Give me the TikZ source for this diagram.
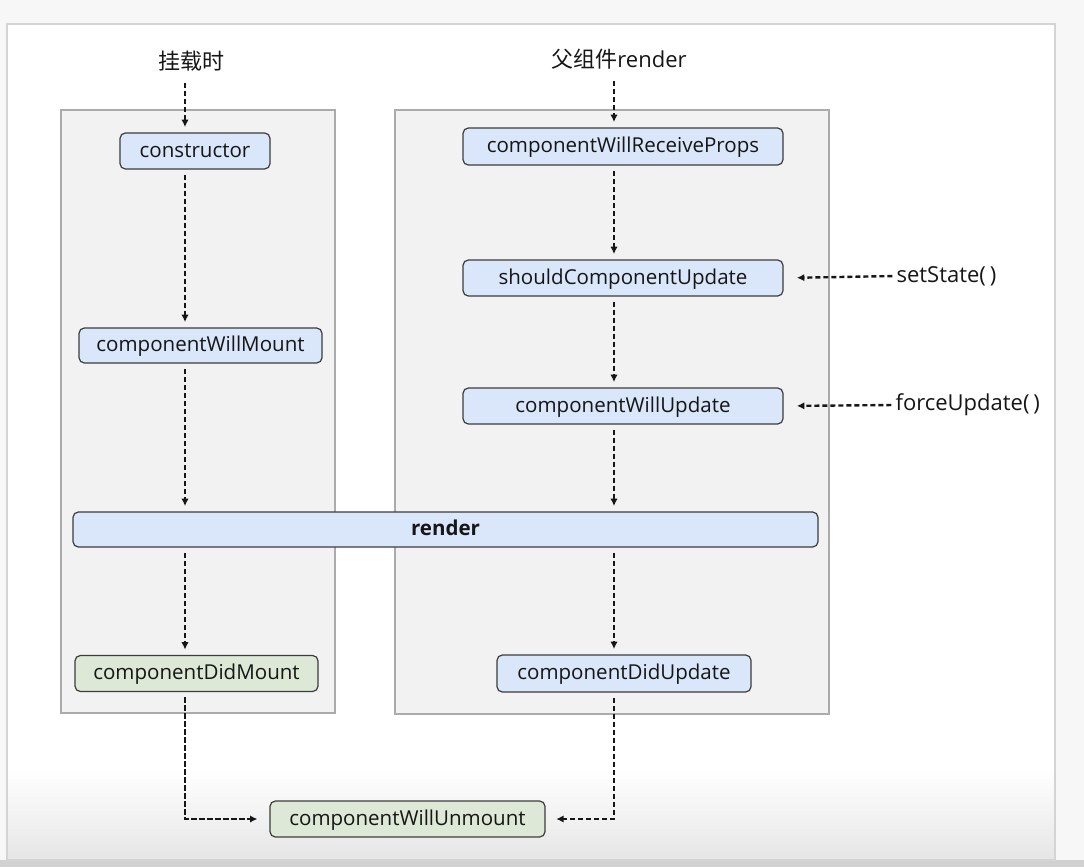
\documentclass[tikz,border=0pt]{standalone}
\usepackage{fontspec}
\setmainfont{Open Sans}
\newfontfamily\cjk{Noto Sans CJK SC}
\usetikzlibrary{arrows.meta}

\definecolor{pagebg}{HTML}{F7F7F7}
\definecolor{pageline}{HTML}{D4D4D4}
\definecolor{panelfill}{HTML}{F2F2F2}
\definecolor{panelline}{HTML}{ABABAB}
\definecolor{bluefill}{HTML}{DAE7FA}
\definecolor{greenfill}{HTML}{DEE8D6}
\definecolor{boxline}{HTML}{3C3C3C}
\definecolor{ink}{HTML}{161616}

\tikzset{
  panel/.style={draw=panelline, fill=panelfill, line width=0.9pt},
  stage/.style={draw=boxline, line width=0.9pt, rounded corners=4pt,
    inner sep=0pt, text=ink, text height=11pt, text depth=1.4pt,
    font=\fontsize{15.4pt}{18pt}\selectfont},
  bluebox/.style={stage, fill=bluefill},
  greenbox/.style={stage, fill=greenfill},
  caption/.style={text=ink, inner sep=1pt, font=\fontsize{16.5pt}{19pt}\selectfont},
  flow/.style={draw=ink, line width=1.8pt, dash pattern=on 3.8pt off 2.2pt,
    -{Latex[length=5.5pt,width=5.5pt]}, shorten <=4pt, shorten >=4pt},
}

\begin{document}
\begin{tikzpicture}[x=0.75pt,y=-0.75pt]
  % canvas and page
  \fill[pagebg] (0,0) rectangle (1084,867);
  \fill[white] (7,24) rectangle (1055,860);
  \shade[top color=white, bottom color=black!10] (7,770) rectangle (1055,860);
  \fill[black!18] (0,860) rectangle (1084,867);
  \draw[pageline, line width=0.9pt] (7,24) rectangle (1055,860);

  % the two phases
  \draw[panel] (61,110) rectangle (335,713);
  \draw[panel] (395,110) rectangle (829,714);

  % lifecycle methods
  \node[bluebox, minimum width=150*0.75pt, minimum height=36*0.75pt] (ctor) at (195,151) {constructor};
  \node[bluebox, minimum width=243*0.75pt, minimum height=35*0.75pt] (cwm) at (200.5,345.5) {componentWillMount};
  \node[bluebox, minimum width=745*0.75pt, minimum height=35*0.75pt, font=\fontsize{15.4pt}{18pt}\selectfont\bfseries] (render) at (445.5,529.5) {render};
  \node[greenbox, minimum width=243*0.75pt, minimum height=36*0.75pt] (cdm) at (196.5,673.5) {componentDidMount};

  \node[bluebox, minimum width=320*0.75pt, minimum height=37*0.75pt] (cwrp) at (623,146.5) {componentWillReceiveProps};
  \node[bluebox, minimum width=320*0.75pt, minimum height=36*0.75pt] (scu) at (623,278) {shouldComponentUpdate};
  \node[bluebox, minimum width=320*0.75pt, minimum height=36*0.75pt] (cwu) at (623,406) {componentWillUpdate};
  \node[bluebox, minimum width=254*0.75pt, minimum height=37*0.75pt] (cdu) at (624,673.5) {componentDidUpdate};

  \node[greenbox, minimum width=275*0.75pt, minimum height=36*0.75pt] (cwun) at (407.5,819) {componentWillUnmount};

  % triggers
  \node[caption] (mount) at (191,61) {\cjk 挂载时};
  \node[caption] (parent) at (619,59) {\cjk 父组件\fontspec{Open Sans}render};
  \node[caption, anchor=west] (setstate) at (895,276) {setState(\hspace{0.18em})};
  \node[caption, anchor=west] (force) at (894,405) {forceUpdate(\hspace{0.18em})};

  % column guides for the vertical arrows
  \coordinate (lx) at (185,0);
  \coordinate (rx) at (614,0);
  \coordinate (low) at (0,819);

  % mounting
  \draw[flow, shorten <=8pt] (mount.south -| lx) -- (ctor.north -| lx);
  \draw[flow] (ctor.south -| lx) -- (cwm.north -| lx);
  \draw[flow] (cwm.south -| lx) -- (render.north -| lx);
  \draw[flow] (render.south -| lx) -- (cdm.north -| lx);
  \draw[flow, shorten >=9pt] (cdm.south -| lx) -- (low -| lx) -- (cwun.west);

  % updating
  \draw[flow, shorten <=8pt] (parent.south -| rx) -- (cwrp.north -| rx);
  \draw[flow] (cwrp.south -| rx) -- (scu.north -| rx);
  \draw[flow] (scu.south -| rx) -- (cwu.north -| rx);
  \draw[flow] (cwu.south -| rx) -- (render.north -| rx);
  \draw[flow] (render.south -| rx) -- (cdu.north -| rx);
  \draw[flow, shorten >=8pt] (cdu.south -| rx) -- (low -| rx) -- (cwun.east);

  \draw[flow, shorten >=10pt, shorten <=2pt] (setstate.west) -- (scu.east);
  \draw[flow, shorten >=10pt, shorten <=2pt] (force.west) -- (cwu.east);
\end{tikzpicture}
\end{document}
